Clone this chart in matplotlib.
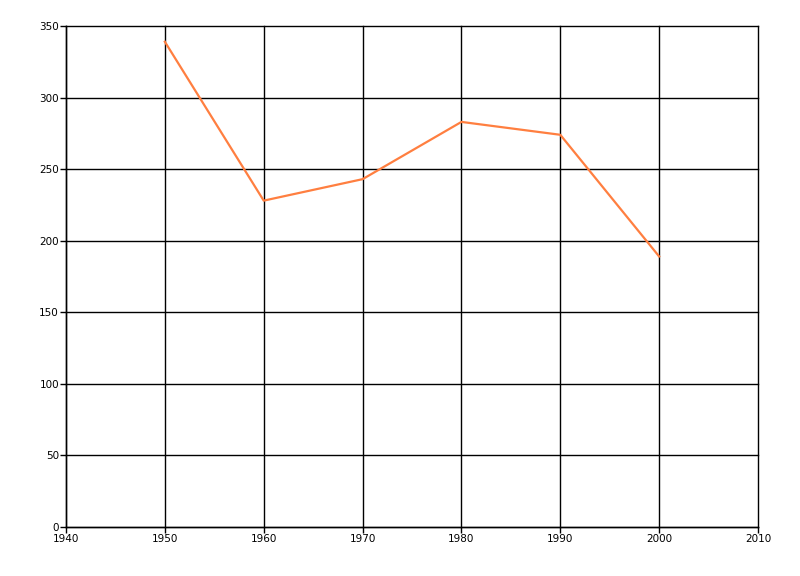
import matplotlib
matplotlib.use('Agg')
import matplotlib.pyplot as plt

years = [1950, 1960, 1970, 1980, 1990, 2000]
values = [339, 228, 243, 283, 274, 189]

x_ticks = list(range(1940, 2011, 10))
y_ticks = list(range(0, 351, 50))


def plot_chart():
    fig = plt.figure(figsize=(8, 5.76), dpi=100)
    ax = fig.add_axes([66 / 800, 49 / 576, 692 / 800, 501 / 576])
    ax.plot(years, values, color='#FF7F40', linewidth=1.6)
    ax.set_xlim(1940, 2010)
    ax.set_ylim(0, 350)
    ax.set_xticks(x_ticks)
    ax.set_yticks(y_ticks)
    ax.grid(True, color='black', linewidth=1)
    ax.set_axisbelow(True)
    # keep the edge grid lines fully visible
    for line in ax.get_xgridlines() + ax.get_ygridlines():
        line.set_clip_on(False)
    for side in ['top', 'right']:
        ax.spines[side].set_visible(False)
    for side in ['left', 'bottom']:
        ax.spines[side].set_linewidth(1)
    ax.tick_params(labelsize=7.5, length=4, width=1, pad=1)
    plt.savefig('out.png', dpi=100)


if __name__ == '__main__':
    plot_chart()
